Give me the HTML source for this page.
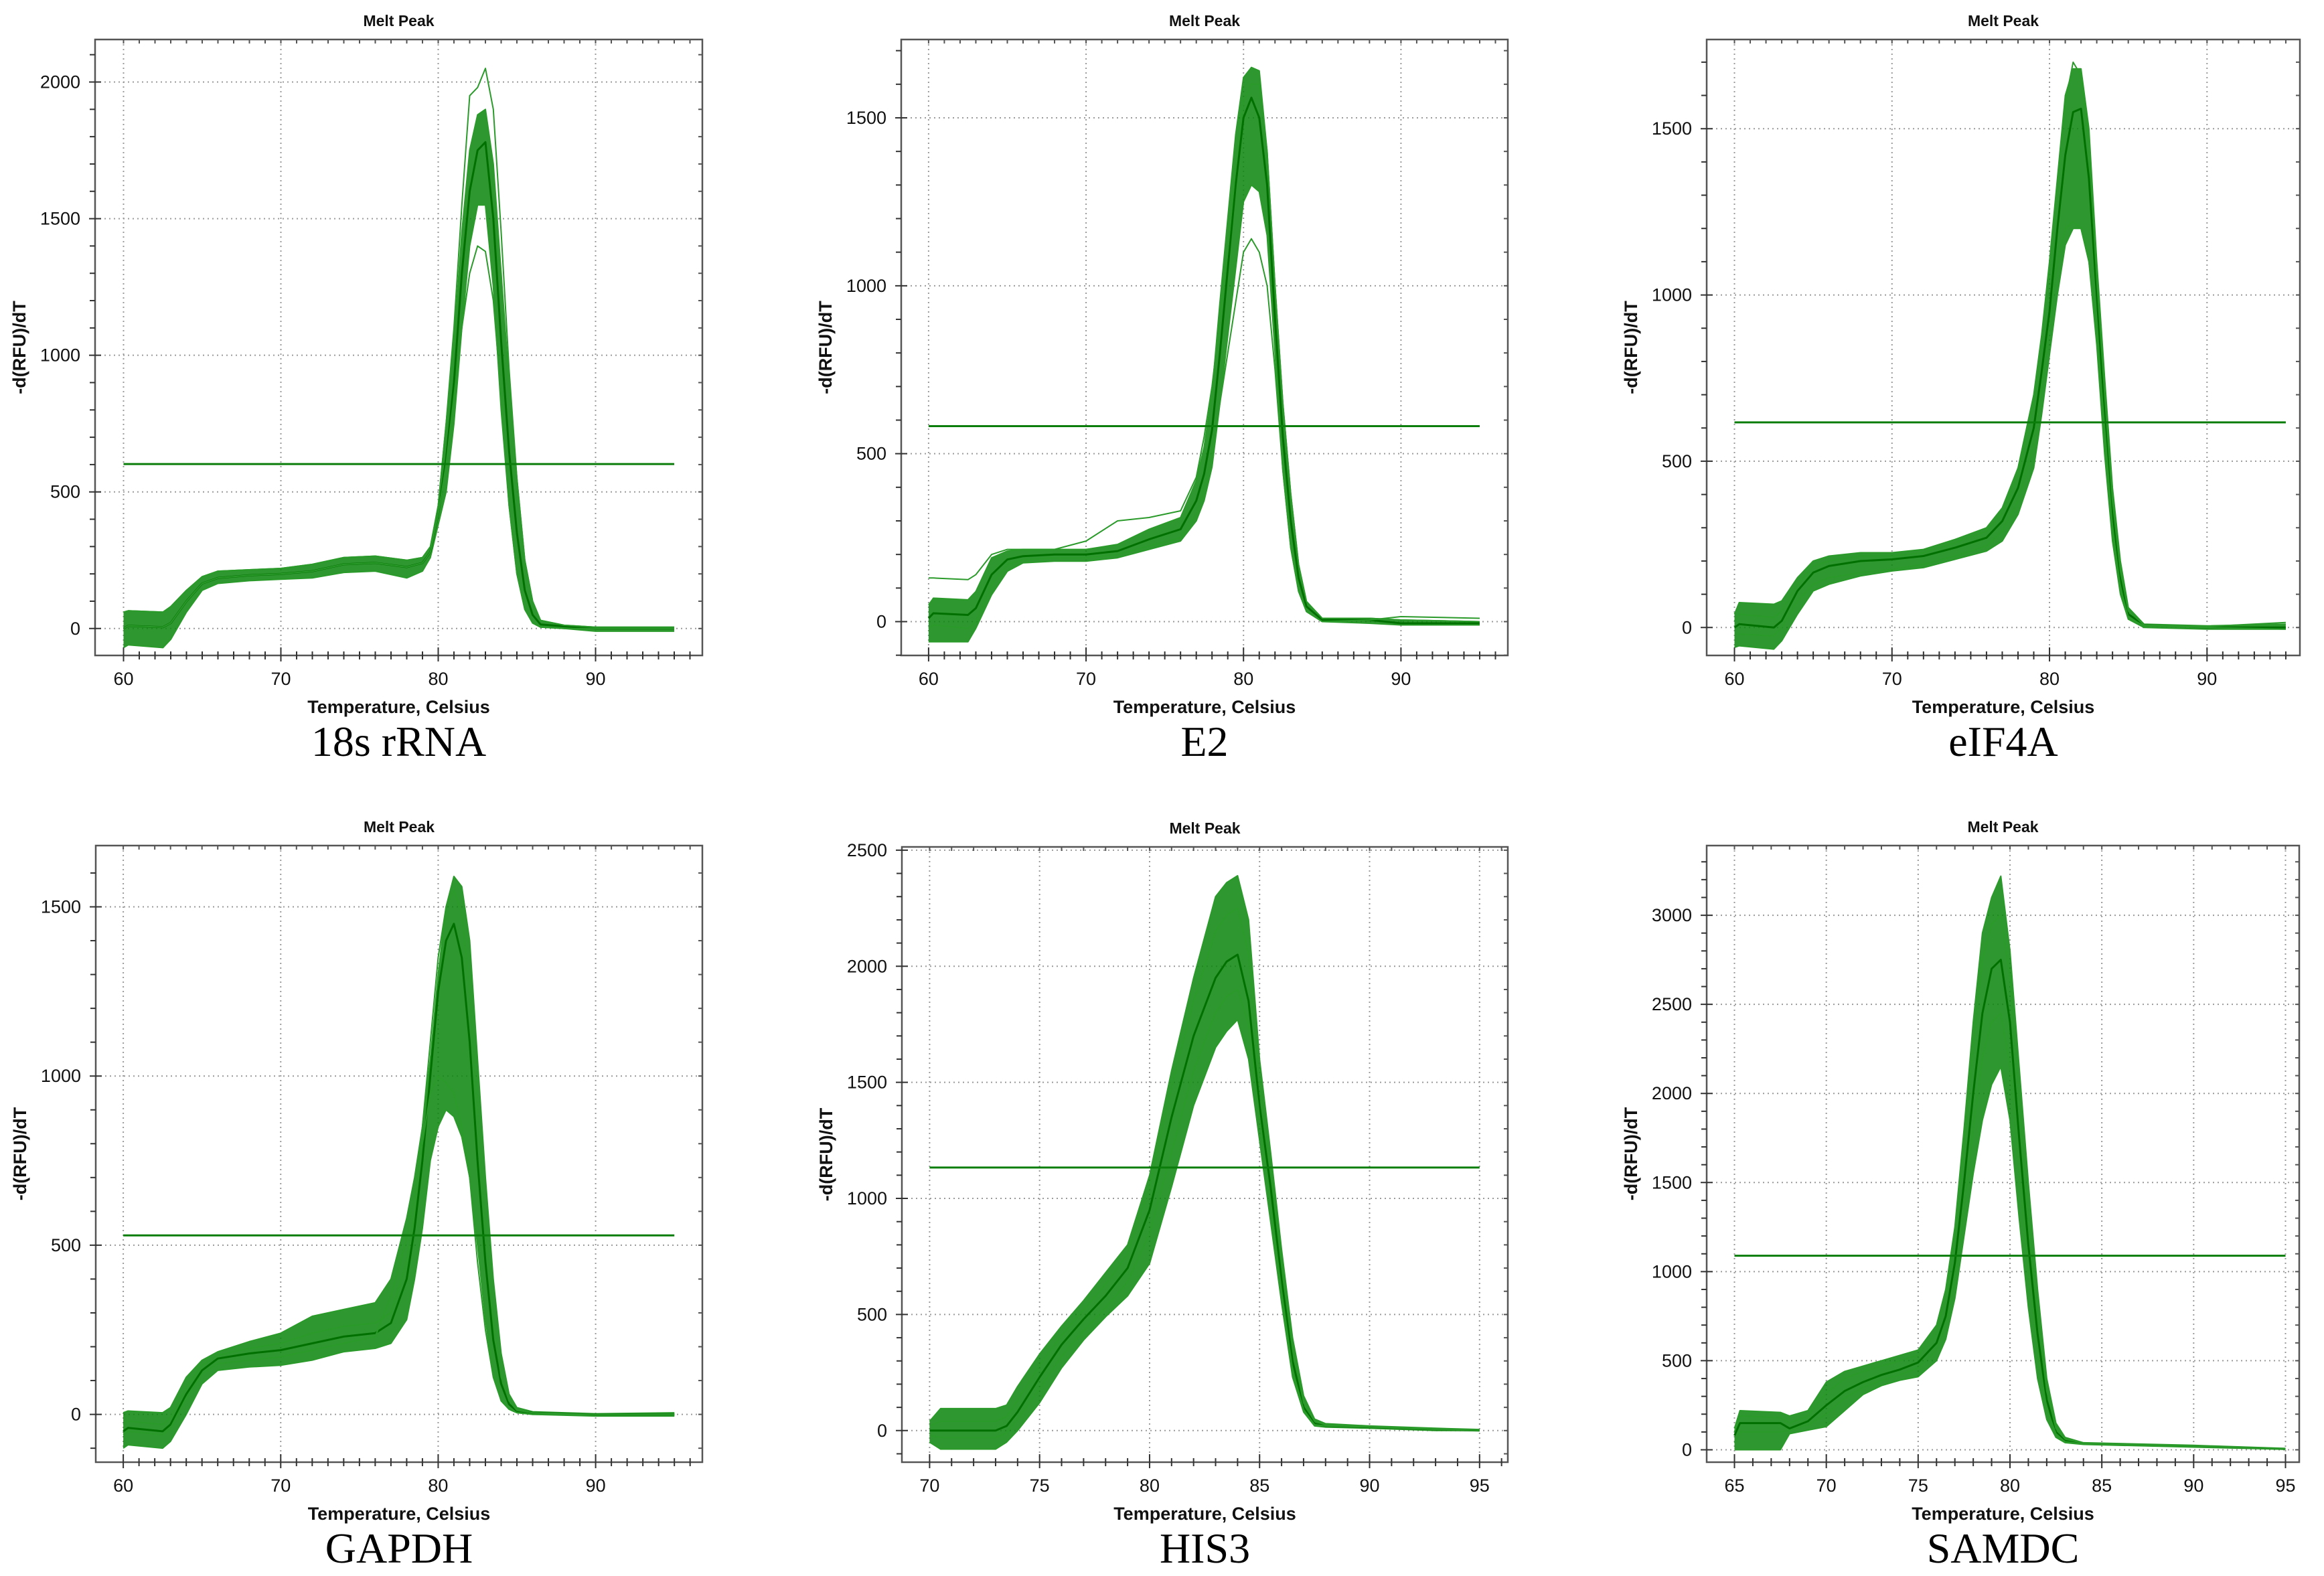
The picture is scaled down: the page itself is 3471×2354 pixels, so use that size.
<!DOCTYPE html>
<html><head><meta charset="utf-8">
<style>
html,body{margin:0;padding:0;background:#fff;}
svg{display:block;font-family:"Liberation Sans",Arial,sans-serif;}
</style></head>
<body>
<svg id="fig" width="3471" height="2354" viewBox="0 0 3471 2354" xmlns="http://www.w3.org/2000/svg">
<rect width="3471" height="2354" fill="#fff"/>
</svg>
<script>
// ---------- DATA ----------
// 18s rRNA
const tempsA=[60,60.3,62.5,63,64,65,66,68,70,72,74,76,78,79,79.5,80,80.5,81,81.5,82,82.5,83,83.5,84,84.5,85,85.5,86,86.5,88,90,95];
const hiA=[60,65,60,80,140,190,210,215,220,235,260,265,250,260,300,450,750,1050,1450,1750,1880,1900,1700,1300,900,550,250,100,30,12,5,5];
const loA=[-70,-60,-70,-40,60,140,165,175,180,185,205,210,185,210,260,380,500,750,1100,1400,1550,1550,1250,800,450,200,70,20,5,0,-10,-10];
const midA=[0,10,5,20,100,165,185,195,200,210,235,240,225,240,280,420,620,900,1300,1600,1750,1780,1500,1050,650,350,140,50,15,8,0,0];
const out1A=[60,65,60,80,140,190,210,215,220,235,260,265,250,260,300,450,750,1100,1550,1950,1980,2050,1900,1450,950,550,250,100,30,12,5,5];
const out2A=[0,10,5,20,100,165,185,195,200,210,235,240,225,240,280,420,600,850,1100,1300,1400,1380,1200,850,450,200,70,20,5,0,0,0];
const thrA=602;
// E2
const tempsB=[60,60.3,62.5,63,64,65,66,68,70,72,74,76,77,77.5,78,78.5,79,79.5,80,80.5,81,81.5,82,82.5,83,83.5,84,85,88,90,95];
const hiB=[50,70,65,90,190,210,215,215,215,230,275,310,420,520,680,950,1200,1450,1620,1650,1640,1400,1000,650,380,170,60,10,10,5,0];
const loB=[-60,-60,-60,-20,80,150,175,180,180,190,215,240,300,360,460,650,850,1050,1250,1300,1280,1150,800,450,220,90,30,0,-5,-10,-10];
const midB=[10,25,20,40,140,185,195,200,200,210,245,275,360,440,570,800,1050,1300,1500,1560,1500,1300,900,550,300,130,45,5,5,-5,-5];
const out1B=[130,130,125,140,200,215,215,215,240,300,310,330,430,550,700,900,1100,1350,1550,1600,1600,1400,1000,650,380,170,60,10,10,5,0];
const out2B=[-20,-10,-20,0,110,170,185,190,190,200,225,250,320,400,500,650,800,950,1100,1140,1100,1000,750,450,220,90,30,0,5,15,10];
const thrB=582;
// eIF4A
const tempsC=[60,60.3,62.5,63,64,65,66,68,70,72,74,76,77,78,79,79.5,80,80.5,81,81.5,82,82.5,83,83.5,84,84.5,85,86,90,95];
const hiC=[40,75,70,80,150,200,215,225,225,235,265,300,360,480,700,880,1100,1350,1600,1680,1680,1500,1100,750,420,200,60,10,5,10];
const loC=[-60,-55,-65,-40,40,110,130,155,170,180,205,230,260,340,480,640,820,1000,1150,1200,1200,1100,850,520,260,100,25,0,-5,-5];
const midC=[0,10,0,20,110,165,185,200,205,215,240,270,320,420,600,770,950,1200,1420,1550,1560,1350,1000,650,350,150,40,8,0,0];
const out1C=[-20,-20,-25,0,80,130,150,165,175,190,215,245,290,380,550,720,900,1100,1200,1220,1200,1100,900,600,300,120,30,5,0,-5];
const out2C=[20,40,30,50,130,185,200,215,215,225,255,290,345,460,680,860,1080,1330,1580,1700,1660,1450,1050,700,380,170,50,8,3,15];
const thrC=617;
// GAPDH
const tempsD=[60,60.3,62.5,63,64,65,66,68,70,72,74,76,77,78,78.5,79,79.5,80,80.5,81,81.5,82,82.5,83,83.5,84,84.5,85,86,90,95];
const hiD=[5,10,5,20,110,160,185,215,240,290,310,330,400,580,700,850,1050,1300,1500,1590,1560,1400,1050,700,400,180,60,20,8,2,5];
const loD=[-100,-90,-100,-80,0,90,130,140,145,160,185,195,210,280,400,550,750,850,900,880,820,700,500,280,120,40,15,5,0,-5,-5];
const midD=[-50,-40,-50,-30,60,130,165,180,190,210,230,240,270,400,550,750,1000,1250,1400,1450,1350,1100,750,450,220,90,30,10,5,0,0];
const out1D=[-60,-50,-60,-40,50,120,150,160,170,190,210,230,350,520,650,800,950,1000,980,950,850,700,450,250,110,40,15,5,0,0,0];
const out2D=[-30,-20,-30,-10,80,145,175,195,210,240,260,270,300,450,600,850,1100,1350,1500,1550,1480,1250,900,550,280,110,40,12,5,0,0];
const thrD=529;
// HIS3
const tempsE=[70,70.5,73,73.5,74,75,76,77,78,79,80,81,82,83,83.5,84,84.5,85,85.5,86,86.5,87,87.5,88,90,93,95];
const hiE=[40,95,95,110,190,330,450,560,680,800,1100,1550,1950,2300,2360,2390,2200,1600,1200,780,400,150,50,30,20,10,5];
const loE=[-50,-80,-80,-50,0,120,270,390,490,580,720,1050,1400,1650,1720,1770,1600,1250,900,550,230,80,20,15,10,0,0];
const midE=[0,0,0,20,80,230,370,480,580,700,950,1350,1700,1950,2020,2050,1850,1400,1050,650,300,100,30,20,15,5,0];
const out1E=[-20,-30,-30,-10,50,180,320,430,530,640,850,1200,1550,1800,1870,1900,1750,1350,980,600,260,90,25,20,15,5,0];
const out2E=[20,40,40,60,130,280,410,520,630,760,1050,1480,1850,2150,2220,2250,2050,1500,1120,720,350,120,40,25,18,8,3];
const thrE=1133;
// SAMDC
const tempsF=[65,65.3,67.5,68,69,70,71,72,73,74,75,76,76.5,77,77.5,78,78.5,79,79.5,80,80.5,81,81.5,82,82.5,83,84,90,95];
const hiF=[120,220,210,190,220,380,440,470,500,530,560,700,900,1250,1800,2400,2900,3100,3220,2800,2150,1500,900,400,150,70,40,25,8];
const loF=[0,0,0,90,110,130,220,310,360,390,410,500,620,850,1200,1550,1850,2050,2150,1850,1300,800,400,170,70,40,30,15,3];
const midF=[80,150,150,120,160,250,330,380,420,450,490,600,750,1050,1500,2000,2450,2700,2750,2400,1750,1150,650,280,100,50,35,20,5];
const out1F=[40,100,100,110,140,200,290,350,390,420,460,560,700,950,1350,1800,2200,2400,2450,2150,1550,1000,550,230,90,45,32,18,4];
const out2F=[100,190,180,150,190,320,400,440,470,500,530,660,850,1200,1700,2250,2750,2950,3000,2650,1950,1300,750,330,120,60,38,22,6];
const thrF=1089;

const xTicksA=[60,70,80,90], yTicksA=[0,500,1000,1500,2000];
const xTicksB=[60,70,80,90], yTicksB=[0,500,1000,1500];
const xTicksC=[60,70,80,90], yTicksC=[0,500,1000,1500];
const xTicksD=[60,70,80,90], yTicksD=[0,500,1000,1500];
const xTicksE=[70,75,80,85,90,95], yTicksE=[0,500,1000,1500,2000,2500];
const xTicksF=[65,70,75,80,85,90,95], yTicksF=[0,500,1000,1500,2000,2500,3000];
const captions=["18s rRNA","E2","eIF4A","GAPDH","HIS3","SAMDC"];

// ---------- LAYOUT (pixel calibration) ----------
const panels=[
 {id:"18s-rrna",L:142,R:1049,T:59,B:979,xa:60,xpa:184.5,xb:90,xpb:889.5,yb:2000,ypa:938.8,ypb:122.5,t0:60,minX:60,maxX:96,
  temps:tempsA,series:[hiA,loA,midA,out1A,out2A],thr:thrA,xt:xTicksA,yt:yTicksA,cap:captions[0]},
 {id:"e2",L:1346,R:2252,T:59,B:979,xa:60,xpa:1386.9,xb:90,xpb:2092.4,yb:1500,ypa:928.5,ypb:176,t0:60,minX:60,maxX:96,
  temps:tempsB,series:[hiB,loB,midB,out1B,out2B],thr:thrB,xt:xTicksB,yt:yTicksB,cap:captions[1]},
 {id:"eif4a",L:2549,R:3435,T:59,B:979,xa:60,xpa:2590.5,xb:90,xpb:3296.3,yb:1500,ypa:937.3,ypb:192.2,t0:60,minX:60,maxX:95,
  temps:tempsC,series:[hiC,loC,midC,out1C,out2C],thr:thrC,xt:xTicksC,yt:yTicksC,cap:captions[2]},
 {id:"gapdh",L:143,R:1049,T:1263,B:2184,xa:60,xpa:184.1,xb:90,xpb:889.6,yb:1500,ypa:2112.6,ypb:1354.5,t0:60,minX:60,maxX:96,
  temps:tempsD,series:[hiD,loD,midD,out1D,out2D],thr:thrD,xt:xTicksD,yt:yTicksD,cap:captions[3]},
 {id:"his3",L:1347,R:2252,T:1265,B:2184,xa:70,xpa:1388.4,xb:95,xpb:2209.8,yb:2500,ypa:2136.8,ypb:1269.9,t0:70,minX:70,maxX:96,
  temps:tempsE,series:[hiE,loE,midE,out1E,out2E],thr:thrE,xt:xTicksE,yt:yTicksE,cap:captions[4]},
 {id:"samdc",L:2549,R:3434,T:1263,B:2184,xa:65,xpa:2590.5,xb:95,xpb:3413.5,yb:3000,ypa:2165.5,ypb:1367.1,t0:65,minX:65,maxX:95,
  temps:tempsF,series:[hiF,loF,midF,out1F,out2F],thr:thrF,xt:xTicksF,yt:yTicksF,cap:captions[5]}
];

const NS="http://www.w3.org/2000/svg";
const svg=document.getElementById("fig");
function mk(tag,attrs,parent,text){
  const e=document.createElementNS(NS,tag);
  for(const k in attrs)e.setAttribute(k,attrs[k]);
  if(text!==undefined)e.textContent=text;
  (parent||svg).appendChild(e);return e;
}

panels.forEach(p=>{
  const kx=(p.xpb-p.xpa)/(p.xb-p.xa);
  const ky=(p.ypa-p.ypb)/p.yb;
  const X=t=>p.xpa+(t-p.xa)*kx;
  const Y=v=>p.ypa-v*ky;
  const g=mk("g",{});
  
  
  const cx=(p.L+p.R)/2;

  const yMin=(p.ypa-p.B)/ky, yMax=(p.ypa-p.T)/ky;
  p.xt.forEach(t=>{
    const l=mk("line",{x1:X(t),x2:X(t),y1:p.T,y2:p.B,stroke:"#9a9a9a","stroke-width":2,"stroke-dasharray":"2,5"},g);
    
    
  });
  p.yt.forEach(v=>{
    const l=mk("line",{x1:p.L,x2:p.R,y1:Y(v),y2:Y(v),stroke:"#9a9a9a","stroke-width":2,"stroke-dasharray":"2,5"},g);
    
    
  });

  const s=p.series, hi=s[0], lo=s[1];
  let d="";
  p.temps.forEach((t,i)=>{d+=(i?"L":"M")+X(t).toFixed(1)+","+Y(hi[i]).toFixed(1);});
  for(let i=p.temps.length-1;i>=0;i--)d+="L"+X(p.temps[i]).toFixed(1)+","+Y(lo[i]).toFixed(1);
  d+="Z";
  const band=mk("path",{d:d,fill:"#0a850a","fill-opacity":0.85,stroke:"none"},g);
  
  
  s.forEach((arr,si)=>{
    let dd="";
    p.temps.forEach((t,i)=>{dd+=(i?"L":"M")+X(t).toFixed(1)+","+Y(arr[i]).toFixed(1);});
    const pl=mk("path",{d:dd,fill:"none",stroke:si===2?"#007000":"#2a9a2a","stroke-width":si===2?3:2,"stroke-linejoin":"round"},g);
    
    
  });

  const th=mk("line",{x1:X(p.t0),x2:X(95),y1:Y(p.thr),y2:Y(p.thr),stroke:"#0a7d0a","stroke-width":3},g);
  
  

  const box=mk("rect",{x:p.L,y:p.T,width:p.R-p.L,height:p.B-p.T,fill:"none",stroke:"#555","stroke-width":2.5},g);
  
  

  for(let t=p.minX;t<=p.maxX+0.001;t+=1){
    const major=p.xt.indexOf(t)>=0;
    const xx=X(t);
    const tk=mk("line",{x1:xx,x2:xx,y1:p.B-(major?12:6),y2:p.B+(major?9:6),stroke:"#333","stroke-width":2},g);
    
    
    const tk2=mk("line",{x1:xx,x2:xx,y1:p.T,y2:p.T+6,stroke:"#555","stroke-width":2},g);
    
    
  }
  p.xt.forEach(t=>{
    const tl=mk("text",{x:X(t),y:p.B+44,"font-size":27,"text-anchor":"middle",fill:"#111"},g,String(t));
    
    
  });
  for(let v=Math.ceil(yMin/100)*100;v<=yMax;v+=100){
    const major=p.yt.indexOf(v)>=0;
    const yy=Y(v);
    const tk=mk("line",{x1:p.L-(major?9:8),x2:p.L+(major?9:0),y1:yy,y2:yy,stroke:"#333","stroke-width":2},g);
    
    
    const tk2=mk("line",{x1:p.R-6,x2:p.R,y1:yy,y2:yy,stroke:"#555","stroke-width":2},g);
    
    
  }
  p.yt.forEach(v=>{
    const tl=mk("text",{x:p.L-22,y:Y(v)+9,"font-size":27,"text-anchor":"end",fill:"#111"},g,String(v));
    
    
  });

  const tt=mk("text",{x:cx,y:p.T-20,"font-size":23,"font-weight":"bold","text-anchor":"middle",fill:"#111"},g,"Melt Peak");
  
  
  const xt=mk("text",{x:cx,y:p.B+86,"font-size":27,"font-weight":"bold","text-anchor":"middle",fill:"#111"},g,"Temperature, Celsius");
  
  
  const ymid=(p.T+p.B)/2;
  const yx=p.L-104;
  const yt=mk("text",{x:yx,y:ymid,"font-size":27,"font-weight":"bold","text-anchor":"middle",fill:"#111",transform:"rotate(-90 "+yx+" "+ymid+")"},g,"-d(RFU)/dT");
  
  
  const cap=mk("text",{x:cx,y:p.B+150,"font-size":64,"text-anchor":"middle",fill:"#000","font-family":"'Liberation Serif',serif"},g,p.cap);
  
  
});
</script>
</body></html>
